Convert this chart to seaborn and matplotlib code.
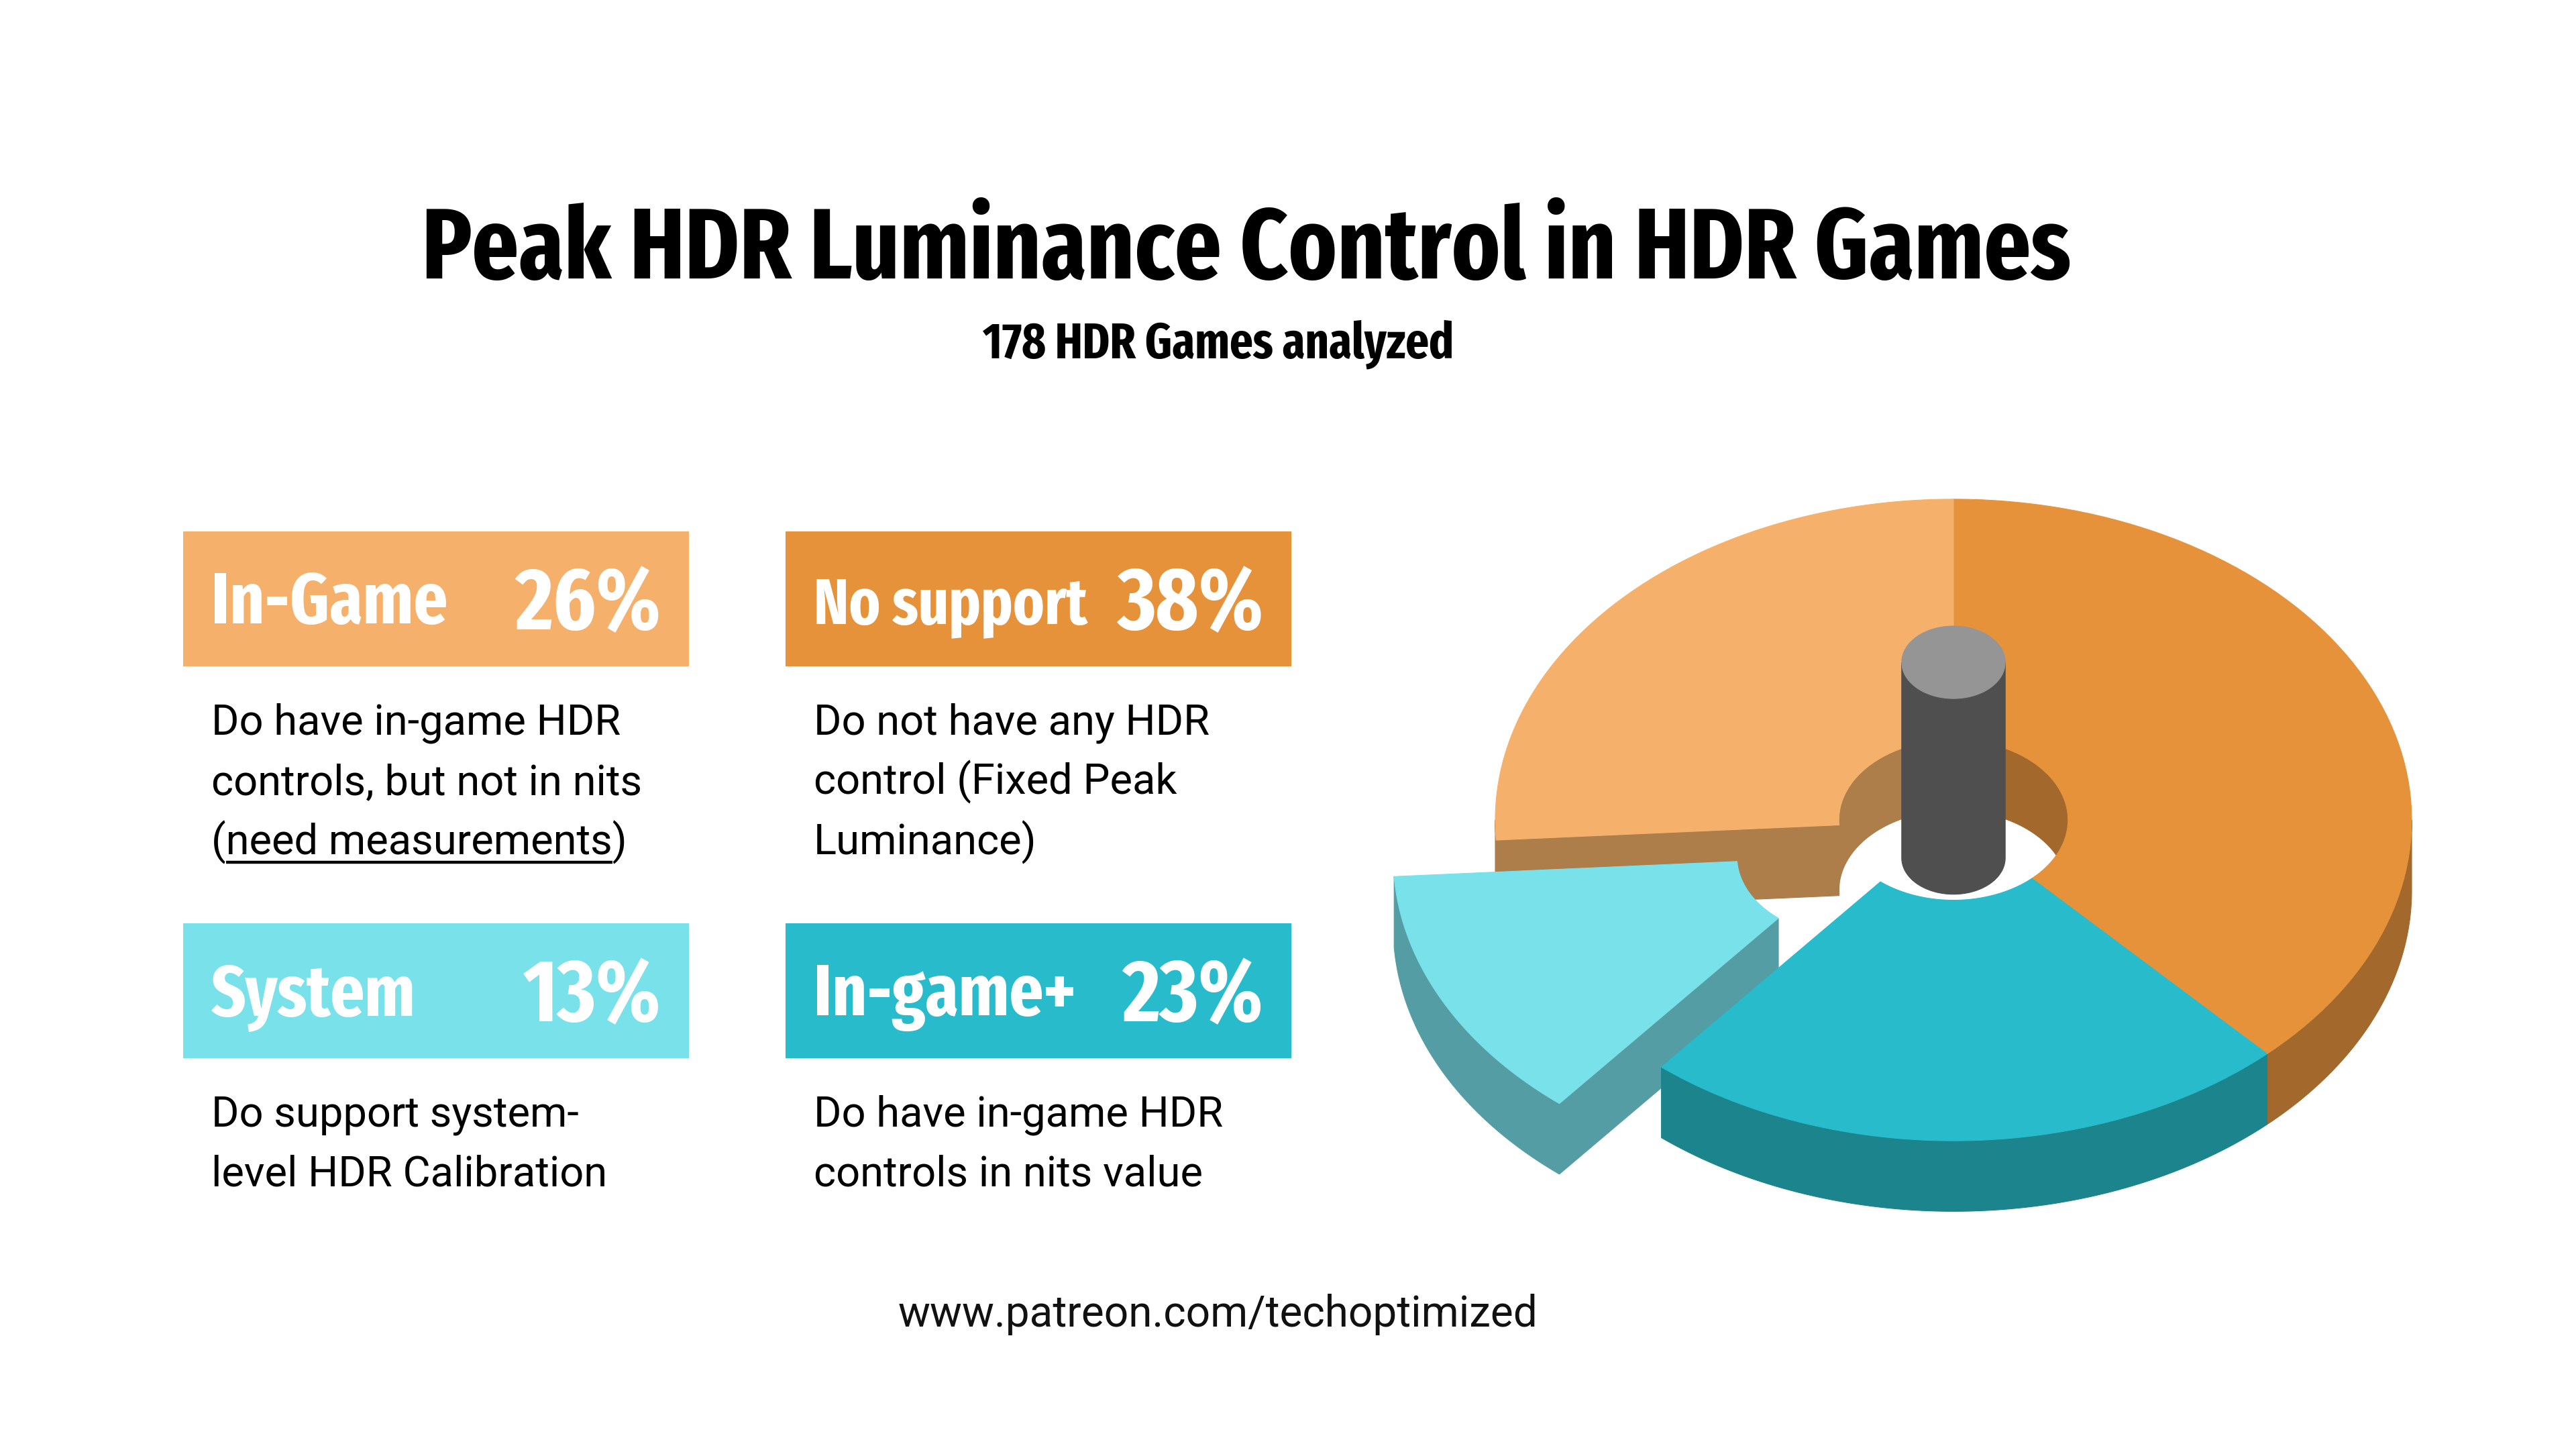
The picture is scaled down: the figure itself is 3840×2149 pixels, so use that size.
import numpy as np
import seaborn as sns
import matplotlib
matplotlib.use('Agg')
import matplotlib.pyplot as plt
from matplotlib.patches import Polygon, Rectangle

# Datos del gráfico
categorias = ['In-Game', 'No support', 'System', 'In-game+']
porcentajes = [26, 38, 13, 23]
descripciones = [
    ['Do have in-game HDR', 'controls, but not in nits', '(need measurements)'],
    ['Do not have any HDR', 'control (Fixed Peak', 'Luminance)'],
    ['Do support system-', 'level HDR Calibration'],
    ['Do have in-game HDR', 'controls in nits value'],
]
orden_pastel = ['No support', 'In-game+', 'System', 'In-Game']  # sentido horario desde las 12
separado = ['System']

titulo = 'Peak HDR Luminance Control in HDR Games'
subtitulo = '178 HDR Games analyzed'
pie_texto = 'www.patreon.com/techoptimized'

colores = dict(zip(categorias, ['#F5B16C', '#E5923B', '#79E1EA', '#27BBCB']))
colores_lado = dict(zip(categorias, ['#AD7D4A', '#A3682B', '#559DA4', '#1B848C']))

sns.set_theme(style='white')
plt.rcParams['font.family'] = ['Roboto', 'DejaVu Sans']
fuente_cond = ['Fira Sans Extra Condensed', 'Fira Sans Condensed', 'Roboto', 'DejaVu Sans']

fig = plt.figure(figsize=(38.4, 21.49), dpi=100)
ax = fig.add_axes([0, 0, 1, 1])
ax.set_xlim(0, 3840)
ax.set_ylim(2149, 0)
ax.axis('off')
fig.canvas.draw()
r = fig.canvas.get_renderer()
inv = ax.transData.inverted()

# Títulos
ax.text(1858, 415, titulo, ha='center', va='baseline', fontsize=107,
        fontweight='bold', family=fuente_cond, color='black')
ax.text(1816, 533, subtitulo, ha='center', va='baseline', fontsize=53.5,
        fontweight='bold', family=fuente_cond, color='black')
ax.text(1816, 1977, pie_texto, ha='center', va='baseline', fontsize=46,
        color='#111111')

# Tarjetas de leyenda
x_col = [273, 1171]
y_fila = [792, 1376]
ancho, alto = 754, 201
margen, hueco = 42, 44
tam_desc = 45.5
for i, (cat, pct, desc) in enumerate(zip(categorias, porcentajes, descripciones)):
    x0 = x_col[i % 2]
    y0 = y_fila[i // 2]
    ax.add_patch(Rectangle((x0, y0), ancho, alto, facecolor=colores[cat],
                           edgecolor='none'))
    t_pct = ax.text(x0 + ancho - margen, y0 + 146, f'{pct}%', ha='right',
                    va='baseline', fontsize=95, fontweight='bold',
                    family=fuente_cond, color='white')
    t_cat = ax.text(x0 + margen, y0 + 137, cat, ha='left', va='baseline',
                    fontsize=78, fontweight='bold', family=fuente_cond,
                    color='white')
    # encoger la etiqueta si no cabe junto al porcentaje
    izq_pct = inv.transform((t_pct.get_window_extent(r).x0, 0))[0]
    der_cat = inv.transform((t_cat.get_window_extent(r).x1, 0))[0]
    disponible = izq_pct - hueco - (x0 + margen)
    ocupado = der_cat - (x0 + margen)
    if ocupado > disponible:
        t_cat.set_fontsize(78 * disponible / ocupado)
    for j, linea in enumerate(desc):
        ax.text(x0 + margen, y0 + alto + 102 + 89 * j, linea, ha='left',
                va='baseline', fontsize=tam_desc, color='black')

# subrayado de "need measurements"
y_linea = y_fila[0] + alto + 102 + 89 * 2
t0 = ax.text(x_col[0] + margen, y_linea, '(', ha='left', va='baseline', fontsize=tam_desc)
t1 = ax.text(x_col[0] + margen, y_linea, '(need measurements', ha='left', va='baseline',
             fontsize=tam_desc)
bb0 = t0.get_window_extent(r)
bb1 = t1.get_window_extent(r)
t0.remove()
t1.remove()
xa = inv.transform((bb0.x1, 0))[0]
xb = inv.transform((bb1.x1, 0))[0]
ax.plot([xa, xb], [y_linea + 12, y_linea + 12], color='black', lw=3.2,
        solid_capstyle='butt')

# Pastel 3D (proyección isométrica)
cx, cy, R = 2912, 1222, 683
k = 0.70          # aplastamiento vertical
prof = 0.154      # grosor
r_int = 0.25      # radio del hueco
expl = 0.25       # desplazamiento del trozo separado


def proy(r, th, z, off=(0.0, 0.0)):
    t = np.radians(th)
    px = r * np.sin(t) + off[0]
    py = r * np.cos(t) + off[1]
    return cx + R * px, cy - R * (k * py + z)


def arco(r, a, b, z, off, n=80):
    th = np.linspace(a, b, n)
    return [proy(r, t, z, off) for t in th]


def recorte(a, b, lo, hi):
    lo2, hi2 = max(a, lo), min(b, hi)
    return (lo2, hi2) if hi2 > lo2 else None


valores = dict(zip(categorias, porcentajes))
total = sum(porcentajes)
trozos = []
ac = 0.0
for cat in orden_pastel:
    a = ac
    b = ac + 360.0 * valores[cat] / total
    ac = b
    m = np.radians((a + b) / 2)
    off = (expl * np.sin(m), expl * np.cos(m)) if cat in separado else (0.0, 0.0)
    trozos.append((cat, a, b, off))

# paredes interiores del hueco (lado lejano)
for cat, a, b, off in trozos:
    for lo, hi in [(-90, 90), (270, 450)]:
        rg = recorte(a, b, lo, hi)
        if rg is None:
            continue
        pts = arco(r_int, rg[0], rg[1], 0, off) + arco(r_int, rg[1], rg[0], -prof, off)
        ax.add_patch(Polygon(pts, closed=True, facecolor=colores_lado[cat],
                             edgecolor=colores_lado[cat], lw=0.8))

# caras laterales: primero el trozo separado
nombres_trozos = [t[0] for t in trozos]
orden_lados = sorted(trozos, key=lambda t: t[0] not in separado)
for cat, a, b, off in orden_lados:
    pos = nombres_trozos.index(cat)
    vecino_prev = nombres_trozos[pos - 1]
    vecino_sig = nombres_trozos[(pos + 1) % len(trozos)]
    caras = []
    if (cat in separado or vecino_prev in separado) and np.sin(np.radians(a)) < 0:
        caras.append(a)
    if (cat in separado or vecino_sig in separado) and np.sin(np.radians(b)) > 0:
        caras.append(b)
    for th in caras:
        pts = [proy(r_int, th, 0, off), proy(1, th, 0, off),
               proy(1, th, -prof, off), proy(r_int, th, -prof, off)]
        ax.add_patch(Polygon(pts, closed=True, facecolor=colores_lado[cat],
                             edgecolor=colores_lado[cat], lw=0.8))
    rg = recorte(a, b, 90, 270)
    if rg is not None:
        pts = arco(1, rg[0], rg[1], 0, off) + arco(1, rg[1], rg[0], -prof, off)
        ax.add_patch(Polygon(pts, closed=True, facecolor=colores_lado[cat],
                             edgecolor=colores_lado[cat], lw=0.8))

# caras superiores
for cat, a, b, off in trozos:
    pts = arco(1, a, b, 0, off) + arco(r_int, b, a, 0, off)
    ax.add_patch(Polygon(pts, closed=True, facecolor=colores[cat],
                         edgecolor=colores[cat], lw=0.8))

# cilindro central
rc, z_sup, z_inf = 0.113, 0.344, -0.083
cuerpo = arco(rc, 270, 90, z_sup, (0, 0)) + arco(rc, 90, 270, z_inf, (0, 0))
ax.add_patch(Polygon(cuerpo, closed=True, facecolor='#4F4F4F', edgecolor='#4F4F4F', lw=0.8))
tapa = arco(rc, 0, 360, z_sup, (0, 0), n=160)
ax.add_patch(Polygon(tapa, closed=True, facecolor='#959595', edgecolor='#959595', lw=0.8))

fig.savefig('out.png', dpi=100, facecolor='white')
